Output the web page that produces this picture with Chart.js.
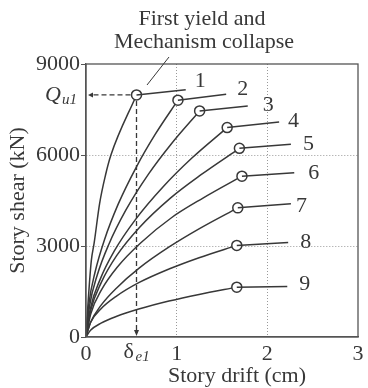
<!DOCTYPE html>
<html>
<head>
<meta charset="utf-8">
<script src="https://cdn.jsdelivr.net/npm/chart.js@4/dist/chart.umd.min.js"></script>
<style>
  html, body { margin: 0; padding: 0; background: #fff; }
  #wrap { width: 368px; height: 388px; }
</style>
</head>
<body>
<div id="wrap"><canvas id="chart"></canvas></div>
<script>
// ── Dados ──
const xTicks = [0, 1, 2, 3];
const yTicks = [0, 3000, 6000, 9000];
const storyNames = ['1', '2', '3', '4', '5', '6', '7', '8', '9'];

// drift (cm) / shear (kN) por pavimento; penúltimo ponto = primeiro escoamento
const drift1 = [0, 0.02, 0.058, 0.09, 0.15, 0.216, 0.275, 0.557, 1.10];
const shear1 = [0, 1000, 2500, 3100, 4400, 5350, 6000, 7980, 8150];
const drift2 = [0, 0.030, 0.101, 0.203, 0.355, 0.558, 0.761, 1.014, 1.546];
const shear2 = [0, 1050, 2150, 3200, 4380, 5620, 6670, 7807, 8005];
const drift3 = [0, 0.038, 0.125, 0.251, 0.439, 0.689, 0.940, 1.253, 1.784];
const shear3 = [0, 1000, 2050, 3050, 4180, 5370, 6365, 7453, 7618];
const drift4 = [0, 0.047, 0.156, 0.311, 0.545, 0.856, 1.168, 1.557, 2.13];
const shear4 = [0, 920, 1900, 2830, 3870, 4970, 5900, 6904, 7090];
const drift5 = [0, 0.051, 0.169, 0.338, 0.592, 0.931, 1.269, 1.692, 2.26];
const shear5 = [0, 870, 1800, 2680, 3620, 4580, 5350, 6219, 6351];
const drift6 = [0, 0.052, 0.172, 0.344, 0.602, 0.946, 1.29, 1.72, 2.297];
const shear6 = [0, 760, 1560, 2300, 3100, 3940, 4580, 5303, 5415];
const drift7 = [0, 0.05, 0.167, 0.335, 0.586, 0.921, 1.256, 1.674, 2.26];
const shear7 = [0, 480, 1050, 1610, 2270, 2976, 3580, 4257, 4390];
const drift8 = [0, 0.05, 0.166, 0.333, 0.582, 0.915, 1.247, 1.663, 2.23];
const shear8 = [0, 480, 930, 1340, 1790, 2240, 2615, 3020, 3119];
const drift9 = [0, 0.05, 0.166, 0.333, 0.582, 0.915, 1.247, 1.663, 2.22];
const shear9 = [0, 220, 455, 675, 920, 1184, 1404, 1644, 1664];

const drifts = [drift1, drift2, drift3, drift4, drift5, drift6, drift7, drift8, drift9];
const shears = [shear1, shear2, shear3, shear4, shear5, shear6, shear7, shear8, shear9];

// ── Estilo ──
const INK = '#383838';
const SERIF = "'Liberation Serif', 'Times New Roman', serif";

const datasets = [];
drifts.forEach((d, i) => {
    const s = shears[i];
    const yi = d.length - 2;
    const rise = d.slice(0, yi + 1).map((x, k) => ({ x: x, y: s[k] }));
    const plateau = d.slice(yi).map((x, k) => ({ x: x, y: s[yi + k] }));
    datasets.push({
        data: plateau, borderColor: INK, borderWidth: 1.5,
        pointRadius: 0, tension: 0
    });
    datasets.push({
        data: rise, borderColor: INK, borderWidth: 1.5,
        cubicInterpolationMode: 'monotone',
        pointRadius: rise.map((p, k) => k === yi ? 5 : 0),
        pointBorderWidth: 1.5, pointBorderColor: INK, pointBackgroundColor: '#fff'
    });
});

// rótulos à direita de cada curva (dx, dy em px)
const labelShift = [[9, -9], [11, -5], [15, -1], [9, -1], [12, 0], [14, 0], [5, 2], [12, 0], [12, -2]];

const annotations = {
    id: 'annotations',
    afterDraw(chart) {
        const { ctx, chartArea: a, scales: { x, y } } = chart;
        ctx.save();
        // moldura
        ctx.strokeStyle = '#555';
        ctx.lineWidth = 1.3;
        ctx.strokeRect(a.left, a.top, a.right - a.left, a.bottom - a.top);

        ctx.fillStyle = INK;
        ctx.textBaseline = 'middle';
        ctx.textAlign = 'left';
        ctx.font = '22px ' + SERIF;
        drifts.forEach((d, i) => {
            const last = d.length - 1;
            const px = x.getPixelForValue(d[last]) + labelShift[i][0];
            const py = y.getPixelForValue(shears[i][last]) + labelShift[i][1];
            ctx.fillText(storyNames[i], px, py);
        });

        // setas tracejadas de Qu1 e δe1
        const yi = drift1.length - 2;
        const cx = x.getPixelForValue(drift1[yi]);
        const cy = y.getPixelForValue(shear1[yi]);
        ctx.strokeStyle = INK;
        ctx.lineWidth = 1.3;
        ctx.setLineDash([5, 3]);
        ctx.beginPath();
        ctx.moveTo(cx - 6, cy); ctx.lineTo(a.left + 4, cy);
        ctx.moveTo(cx, cy + 6); ctx.lineTo(cx, a.bottom - 4);
        ctx.stroke();
        ctx.setLineDash([]);
        ctx.beginPath();
        ctx.moveTo(a.left + 2, cy); ctx.lineTo(a.left + 7, cy - 2.5); ctx.lineTo(a.left + 7, cy + 2.5); ctx.closePath();
        ctx.moveTo(cx, a.bottom - 1); ctx.lineTo(cx - 2.5, a.bottom - 7); ctx.lineTo(cx + 2.5, a.bottom - 7); ctx.closePath();
        ctx.fill();

        // Qu1
        ctx.textAlign = 'left';
        ctx.font = 'italic 22px ' + SERIF;
        ctx.fillText('Q', 45, cy);
        ctx.font = 'italic 15px ' + SERIF;
        ctx.fillText('u1', 62, cy + 5);

        // δe1
        ctx.font = '22px ' + SERIF;
        ctx.fillText('δ', cx - 13, 352);
        ctx.font = 'italic 15px ' + SERIF;
        ctx.fillText('e1', cx - 1, 357);

        // título do eixo x
        ctx.textAlign = 'center';
        ctx.font = '22px ' + SERIF;
        ctx.fillText('Story drift (cm)', 237, 376);

        // nota
        ctx.fillText('First yield and', 202, 19);
        ctx.fillText('Mechanism collapse', 204, 42);
        ctx.lineWidth = 1;
        ctx.beginPath();
        ctx.moveTo(169, 57); ctx.lineTo(147, 85);
        ctx.stroke();
        ctx.restore();
    }
};

new Chart(document.getElementById('chart'), {
    type: 'scatter',
    data: { datasets },
    options: {
        responsive: true,
        maintainAspectRatio: false,
        animation: false,
        showLine: true,
        layout: { padding: { top: 64, right: 10, left: 0, bottom: 0 } },
        plugins: { legend: { display: false }, tooltip: { enabled: false } },
        scales: {
            x: {
                type: 'linear', min: 0, max: 3,
                afterBuildTicks: s => { s.ticks = xTicks.map(v => ({ value: v })); },
                afterFit: s => { s.height = 51; },
                ticks: { color: INK, font: { family: SERIF, size: 22 }, padding: 4, callback: v => String(v) },
                grid: {
                    drawTicks: false,
                    color: c => (c.tick && (c.tick.value === 1 || c.tick.value === 2)) ? '#999' : 'transparent',
                    lineWidth: 1
                },
                border: { color: '#555', width: 1.3, dash: [1, 2] }
            },
            y: {
                type: 'linear', min: 0, max: 9000,
                afterBuildTicks: s => { s.ticks = yTicks.map(v => ({ value: v })); },
                afterFit: s => { s.width = 86; },
                ticks: { color: INK, font: { family: SERIF, size: 22 }, padding: 1, callback: v => String(v) },
                title: {
                    display: true, text: 'Story shear (kN)', color: INK,
                    font: { family: SERIF, size: 22 }, padding: { top: 5, bottom: 0 }
                },
                grid: {
                    tickLength: 5, tickColor: '#555', tickBorderDash: [],
                    color: c => (c.tick && (c.tick.value === 3000 || c.tick.value === 6000)) ? '#999' : 'transparent',
                    lineWidth: 1
                },
                border: { color: '#555', width: 1.3, dash: [1, 2] }
            }
        }
    },
    plugins: [annotations]
});
</script>
</body>
</html>
